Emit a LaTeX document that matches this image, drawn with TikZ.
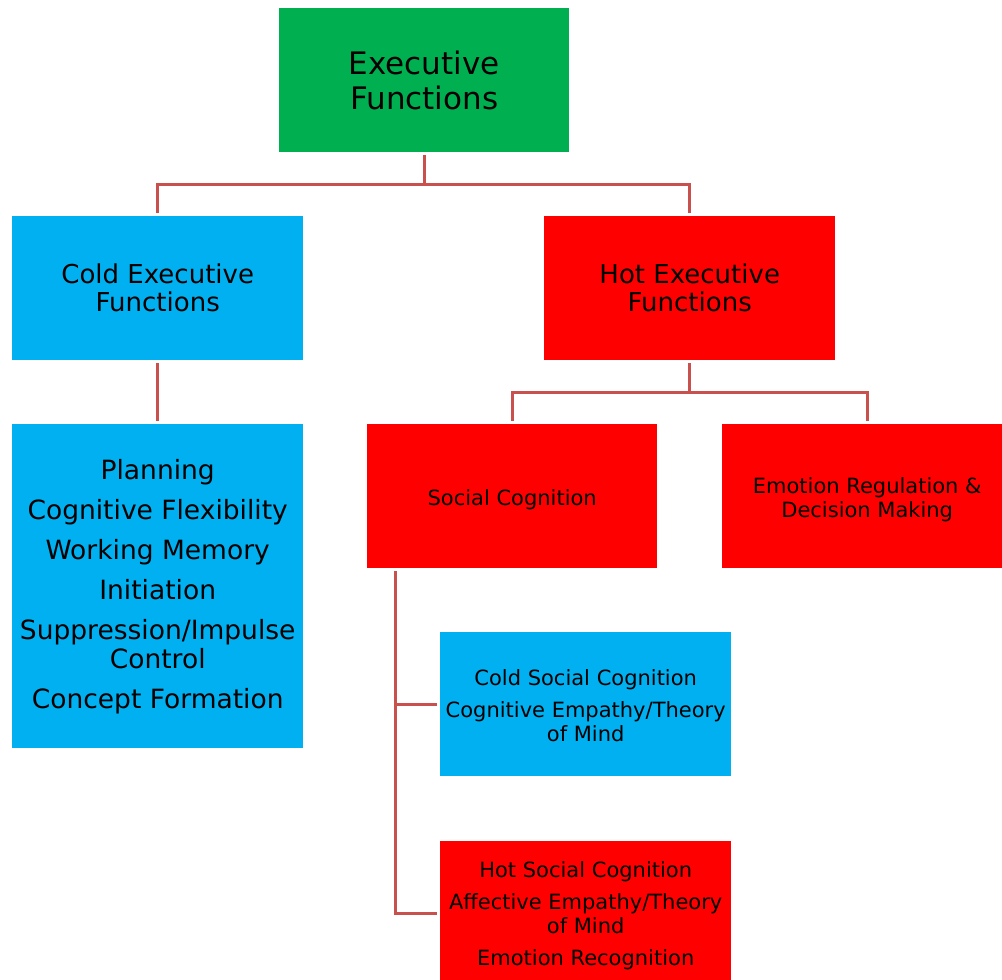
\documentclass[tikz,border=0pt]{standalone}
\usepackage{fontspec}
\setmainfont{DejaVu Sans}
\definecolor{efgreen}{HTML}{00B050}
\definecolor{coldblue}{HTML}{00B0F0}
\definecolor{hotred}{HTML}{FF0000}
\definecolor{linkred}{HTML}{C8504D}
\tikzset{
  box/.style={rectangle, inner sep=0pt, minimum width=291pt, minimum height=144pt,
    anchor=north west, align=center, text=black},
  cold/.style={box, fill=coldblue},
  hot/.style={box, fill=hotred},
  conn/.style={draw=linkred, line width=3pt},
  big/.style={font=\fontsize{31}{35}\selectfont},
  mid/.style={font=\fontsize{26}{28}\selectfont},
  list/.style={font=\fontsize{26.5}{29}\selectfont},
  small/.style={font=\fontsize{21}{24}\selectfont},
}
% taller strut on a first line pushes the text block a little lower
\newcommand{\lowstrut}[1]{\rule{0pt}{#1}}
\begin{document}
\begin{tikzpicture}[x=1pt,y=1pt]
\useasboundingbox (0,0) rectangle (1002,-980);

% boxes
\node[box, fill=efgreen, big, minimum width=290pt] (ef) at (279,-8) {Executive\\Functions};
\node[cold, mid] (cef) at (12,-216) {Cold Executive\\Functions};
\node[hot, mid] (hef) at (544,-216) {Hot Executive\\Functions};
\node[cold, list, minimum height=324pt] (clist) at (12,-424)
  {Planning\\[11pt]Cognitive Flexibility\\[11pt]Working Memory\\[11pt]Initiation\\[11pt]Suppression/Impulse\\Control\\[11pt]Concept Formation};
\node[hot, small, minimum width=290pt] (sc) at (367,-424) {\lowstrut{23pt}Social Cognition};
\node[hot, small, minimum width=290pt] (erd) at (722,-424) {\lowstrut{22pt}Emotion Regulation \&\\Decision Making};
\node[cold, small] (csc) at (440,-632) {\lowstrut{18pt}Cold Social Cognition\\[8pt]Cognitive Empathy/Theory\\of Mind};
\node[hot, small] (hsc) at (440,-841) {\lowstrut{20pt}Hot Social Cognition\\[8pt]Affective Empathy/Theory\\of Mind\\[8pt]Emotion Recognition};

% connectors
\coordinate (j1) at (ef.south |- 0,-184);
\draw[conn] ([yshift=-3pt]ef.south) -- (j1);
\draw[conn] (j1) -| ([yshift=3pt]cef.north);
\draw[conn] (j1) -| ([yshift=3pt]hef.north);

\draw[conn] ([yshift=-3pt]cef.south) -- ([yshift=3pt]clist.north);

\coordinate (j2) at (hef.south |- 0,-392);
\draw[conn] ([yshift=-3pt]hef.south) -- (j2);
\draw[conn] (j2) -| ([yshift=3pt]sc.north);
\draw[conn] (j2) -| ([yshift=3pt]erd.north);

\coordinate (sv) at ([xshift=28pt,yshift=-3pt]sc.south west);
\draw[conn] (sv) |- ([xshift=-3pt]csc.west);
\draw[conn] (sv) |- ([xshift=-3pt]hsc.west);
\end{tikzpicture}
\end{document}
